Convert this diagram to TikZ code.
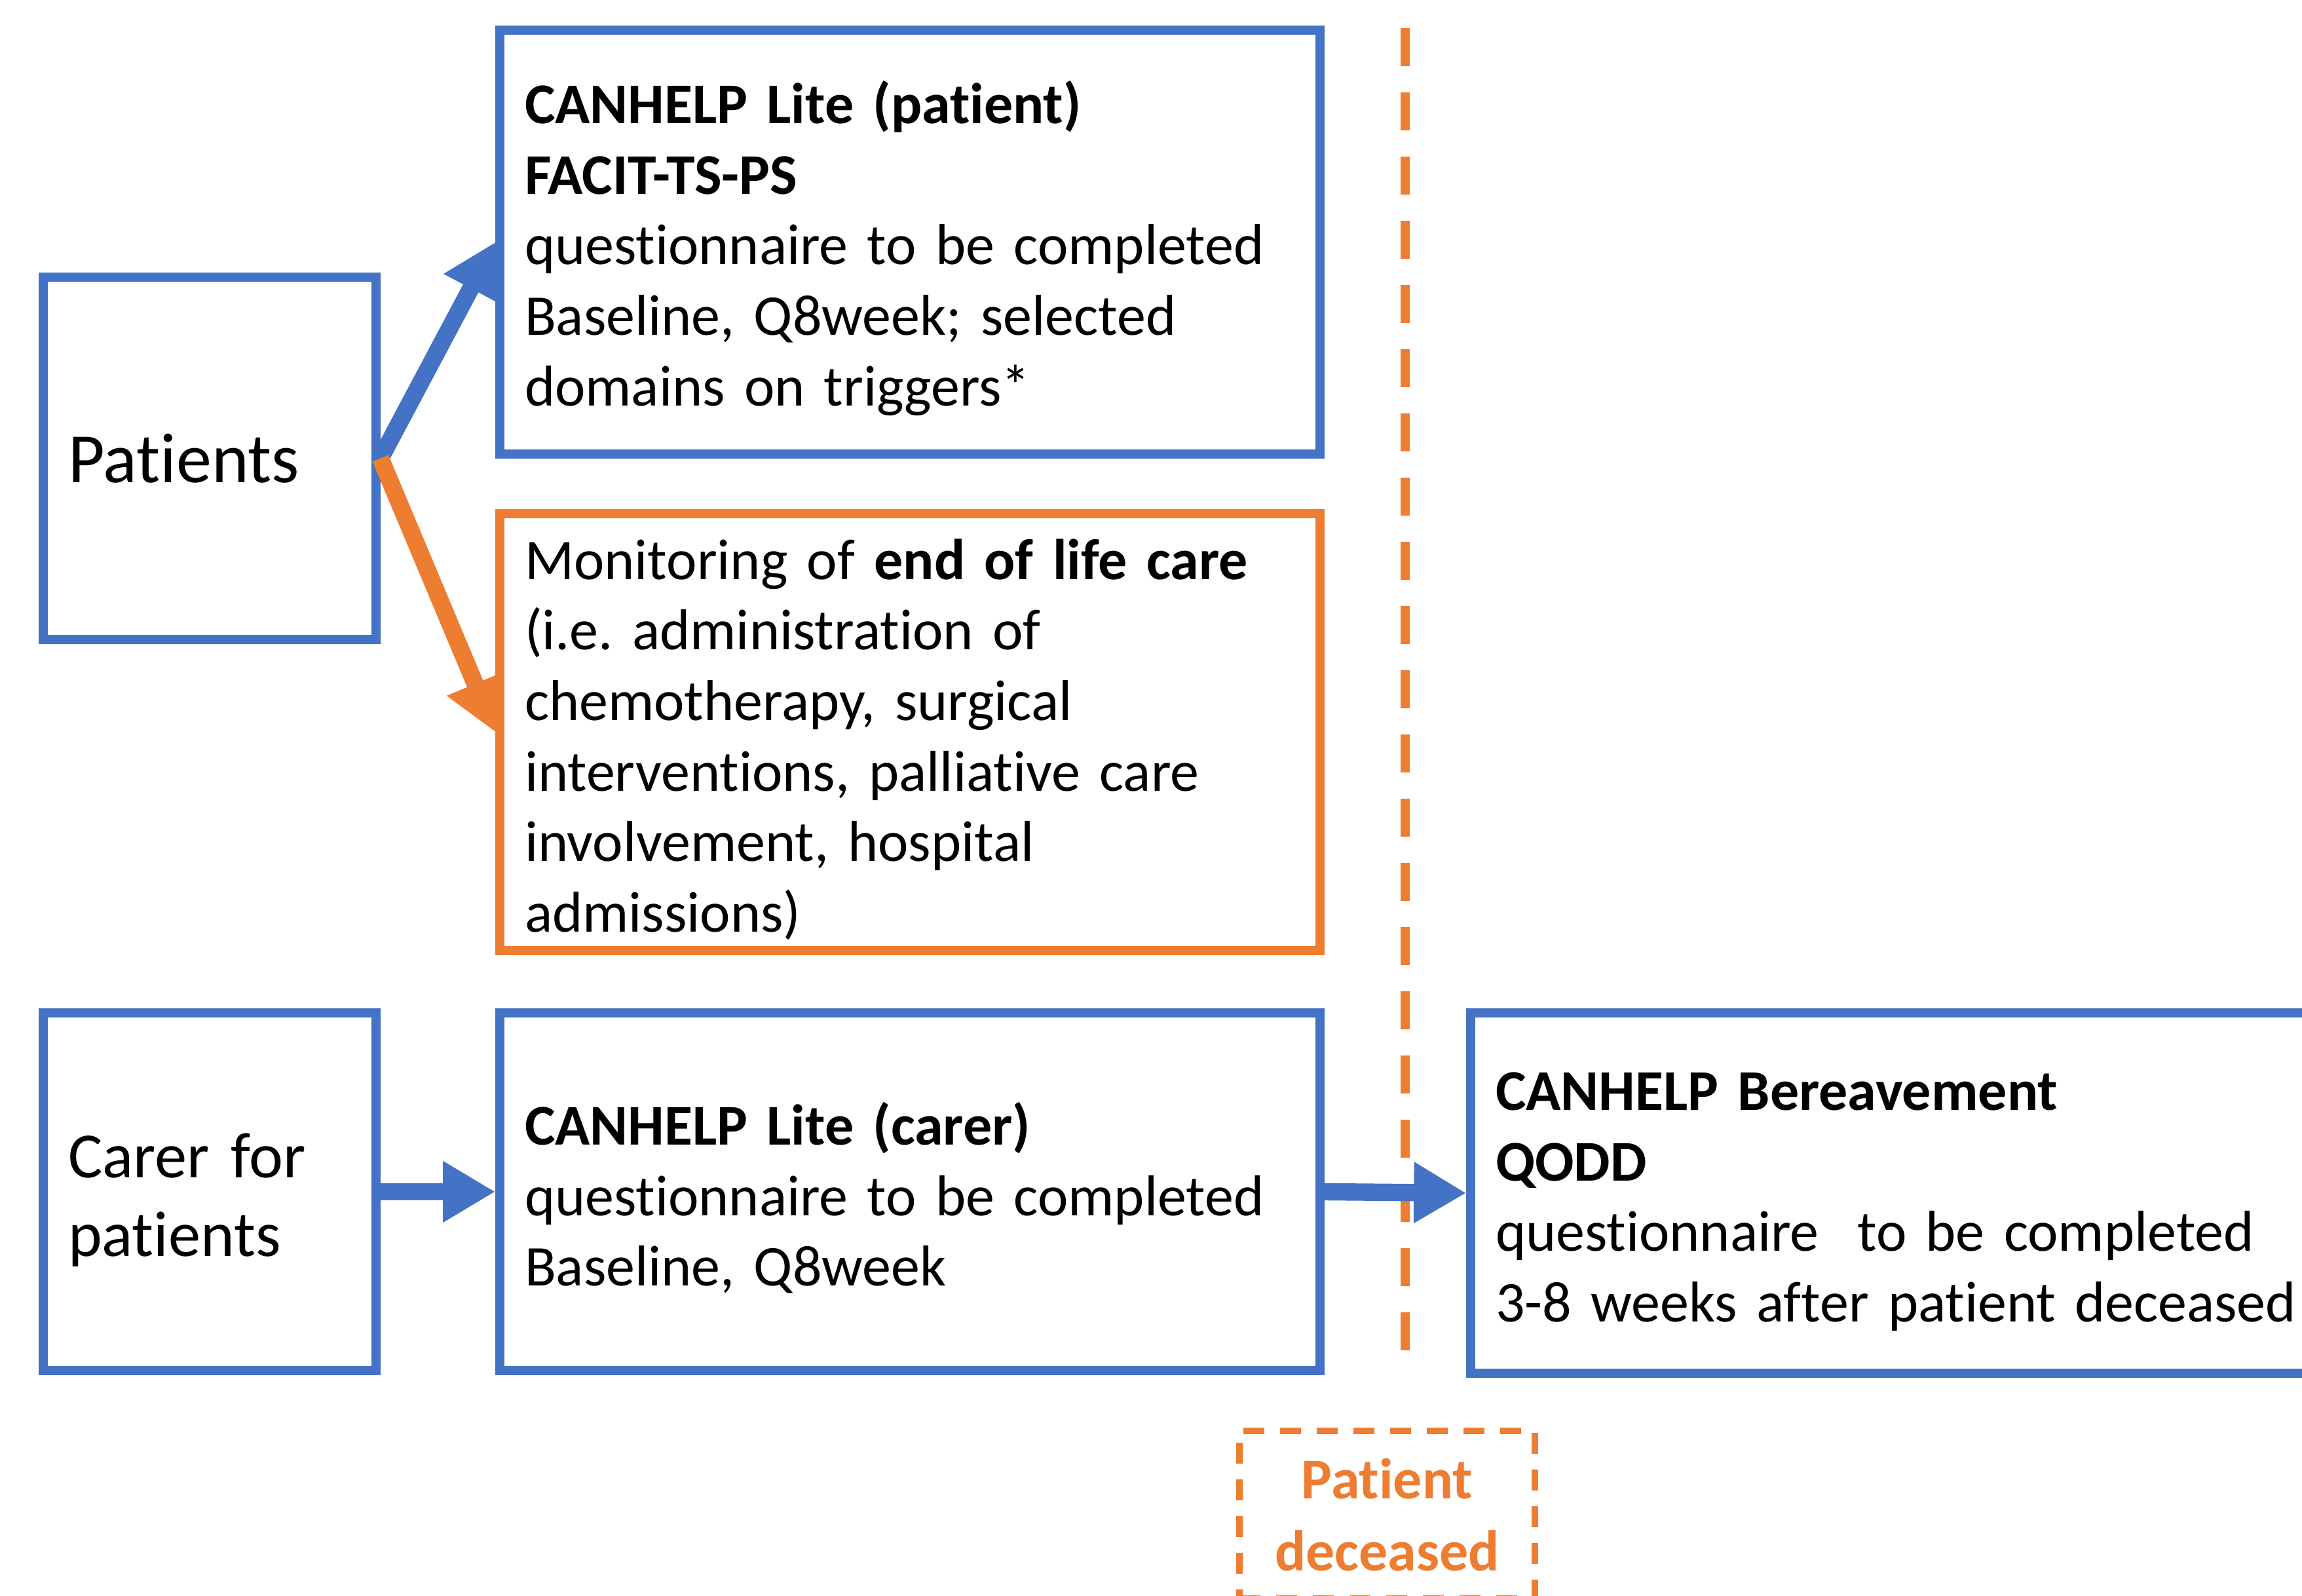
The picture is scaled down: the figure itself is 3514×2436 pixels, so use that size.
\documentclass[tikz,border=0pt]{standalone}
\usepackage{fontspec}
\setmainfont{Carlito}[Ligatures={NoCommon,NoContextual}]
\usetikzlibrary{arrows.meta}
\definecolor{cblue}{HTML}{4472C4}
\definecolor{corange}{HTML}{ED7D31}
\newcommand{\topstrut}{\rule{0pt}{21pt}}
\frenchspacing
\begin{document}
\begin{tikzpicture}[x=0.25pt,y=-0.25pt,
  box/.style={draw=cblue, line width=3.4pt, rectangle, inner xsep=9.5pt, inner ysep=0pt,
    align=left, font=\fontsize{22pt}{26.9pt}\selectfont},
  obox/.style={box, draw=corange},
  widebox/.style={minimum width=313pt, text width=294pt},
  smallbox/.style={minimum width=127pt, text width=108pt},
  arr/.style={line width=6.6pt, -{Triangle[length=20pt,width=22pt]}},
  vdash/.style={draw=corange, line width=3.5pt, dash pattern=on 14.5pt off 10pt},
  decbox/.style={draw=corange, line width=2.6pt, dash pattern=on 8pt off 6pt, rectangle,
    minimum width=112.75pt, minimum height=64pt, align=center, text=corange,
    font=\bfseries\fontsize{22pt}{27.5pt}\selectfont}
]
\useasboundingbox (0,0) rectangle (3514,2436);
\clip (0,0) rectangle (3514,2436);
\fill[white] (0,0) rectangle (3514,2436);

% boxes
\node[box, smallbox, minimum height=138.25pt, font=\fontsize{27pt}{32pt}\selectfont] (pat) at (320,699.5) {Patients};
\node[box, widebox, minimum height=161.75pt] (lite) at (1389,369.5)
  {\topstrut\textbf{CANHELP Lite (patient)}\\ \textbf{FACIT-TS-PS}\\ questionnaire to be completed\\ Baseline, Q8week; selected\\ domains on triggers*};
\node[obox, widebox, minimum height=166.75pt] (eol) at (1389,1117.5)
  {\topstrut Monitoring of \textbf{end of life care}\\ (i.e. administration of\\ chemotherapy, surgical\\ interventions, palliative care\\ involvement, hospital\\ admissions)};
\node[box, smallbox, minimum height=136.5pt, font=\fontsize{24.6pt}{30pt}\selectfont] (carer) at (320,1819) {\rule{0pt}{23pt}Carer for\\ patients};
\node[box, widebox, minimum height=136.5pt] (litec) at (1389,1819)
  {\topstrut\textbf{CANHELP Lite (carer)}\\ questionnaire to be completed\\ Baseline, Q8week};
\node[box, minimum width=328.75pt, text width=309.75pt, minimum height=137.5pt] (ber) at (2902.5,1821)
  {\topstrut\textbf{CANHELP Bereavement}\\ \textbf{QODD}\\ questionnaire\ \ to be completed\\ 3-8 weeks after patient deceased};

% dashed time line
\coordinate (vtop) at (2145,43);
\coordinate (vbot) at (2145,2073);
\draw[vdash] (vtop) -- (vbot);

\node[decbox] (dec) at (2117.5,2312) {Patient\\ deceased};

% arrows
\draw[arr, cblue] (pat.east) -- (lite.west);
\draw[arr, corange] (pat.east) -- (eol.west);
\draw[arr, cblue] (carer.east) -- (litec.west);
\draw[arr, cblue] (litec.east) -- (ber.west);
\end{tikzpicture}
\end{document}
